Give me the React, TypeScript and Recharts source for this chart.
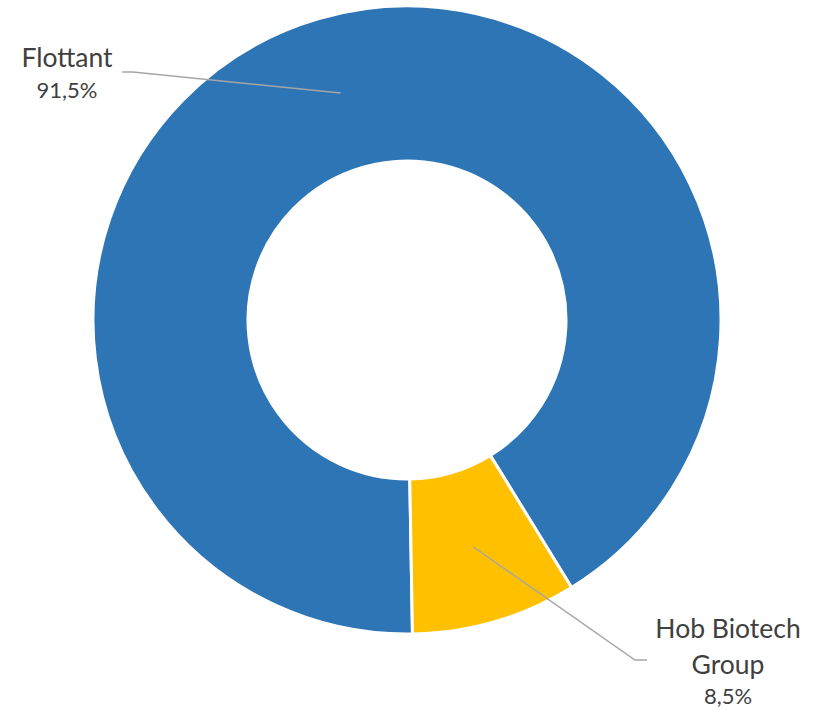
import React from 'react';
import { PieChart, Pie, Cell } from 'recharts';

const names = ['Flottant', 'Hob Biotech Group'];
const labelLines = [['Flottant'], ['Hob Biotech', 'Group']];
const shares = [91.5, 8.5];
const COLORS = ['#2E75B6', '#FFC000'];

const chartData = names.map((name, i) => ({ name, value: shares[i] }));

// label layout, offsets from the pie centre (manually placed like in the Excel source)
const LABEL_LAYOUT = [
  { elbow: [-274, -248], end: [-285, -248], textX: -340, lineY: [-253], pctY: -222 },
  { elbow: [228, 340], end: [240, 340], textX: 321, lineY: [318, 354], pctY: 384 },
];

const RADIAN = Math.PI / 180;
const FONT = 'Lato, "Open Sans", sans-serif';

const renderLabel = (props: any) => {
  const { cx, cy, midAngle, innerRadius, outerRadius, index, value } = props;
  const r = (innerRadius + outerRadius) / 2;
  const sx = cx + r * Math.cos(-midAngle * RADIAN);
  const sy = cy + r * Math.sin(-midAngle * RADIAN);
  const lay = LABEL_LAYOUT[index];
  const pts = `${sx},${sy} ${cx + lay.elbow[0]},${cy + lay.elbow[1]} ${cx + lay.end[0]},${cy + lay.end[1]}`;
  return (
    <g key={`lbl-${index}`}>
      <polyline points={pts} fill="none" stroke="#A6A6A6" strokeWidth={1.5} />
      {labelLines[index].map((t, j) => (
        <text
          key={j}
          x={cx + lay.textX}
          y={cy + lay.lineY[j]}
          textAnchor="middle"
          fill="#404040"
          fontSize={26.5}
          fontFamily={FONT}
        >
          {t}
        </text>
      ))}
      <text
        x={cx + lay.textX}
        y={cy + lay.pctY}
        textAnchor="middle"
        fill="#404040"
        fontSize={22}
        fontFamily={FONT}
      >
        {`${value.toFixed(1).replace('.', ',')}%`}
      </text>
    </g>
  );
};

const App: React.FC = () => {
  return (
    <div style={{ position: 'absolute', left: 0, top: 0, width: 819, height: 708, background: '#fff' }}>
      <PieChart width={819} height={708} margin={{ top: 0, right: 0, bottom: 0, left: 0 }}>
        <Pie
          data={chartData}
          dataKey="value"
          cx={407}
          cy={320}
          innerRadius={159}
          outerRadius={314}
          startAngle={-89}
          endAngle={-449}
          stroke="#FFFFFF"
          strokeWidth={3}
          labelLine={false}
          label={renderLabel}
          isAnimationActive={false}
        >
          {chartData.map((_, i) => (
            <Cell key={`cell-${i}`} fill={COLORS[i]} />
          ))}
        </Pie>
      </PieChart>
    </div>
  );
};

export default App;
